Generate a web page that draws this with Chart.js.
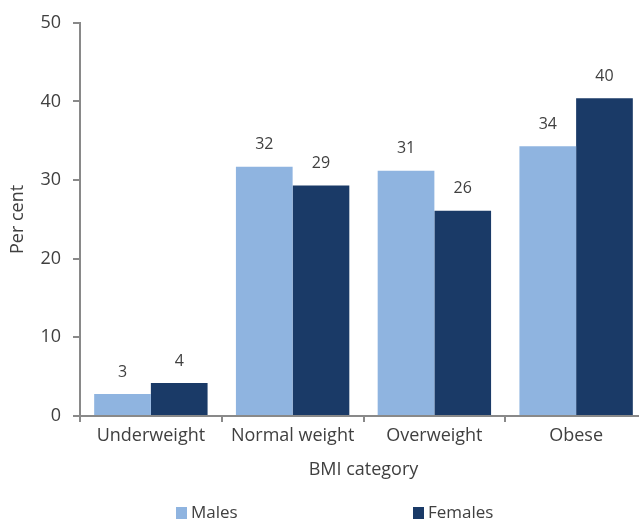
<!DOCTYPE html>
<html>
<head>
<meta charset="utf-8">
<script src="https://cdn.jsdelivr.net/npm/chart.js@4/dist/chart.umd.min.js"></script>
<style>
    html, body { margin: 0; padding: 0; background: #fff; overflow: hidden; }
    #wrap { position: absolute; left: 0; top: 0; width: 650px; height: 520px; }
</style>
</head>
<body>
<div id="wrap"><canvas id="chart"></canvas></div>
<script>
(function () {
    "use strict";

    const categories = ["Underweight", "Normal weight", "Overweight", "Obese"];
    const males = [2.8, 31.7, 31.2, 34.3];
    const females = [4.2, 29.3, 26.1, 40.4];
    const yTicks = [0, 10, 20, 30, 40, 50];

    const textColor = "#404040";
    const axisColor = "#898989";
    const lightBlue = "#8FB4E0";
    const darkBlue = "#1A3A67";
    const font = "'Open Sans', 'Noto Sans', sans-serif";

    // value labels above each bar, rounded like the source
    const valueLabels = {
        id: "valueLabels",
        afterDatasetsDraw(chart) {
            const ctx = chart.ctx;
            ctx.save();
            ctx.font = `16px ${font}`;
            ctx.fillStyle = textColor;
            ctx.textAlign = "center";
            ctx.textBaseline = "middle";
            chart.data.datasets.forEach((ds, i) => {
                chart.getDatasetMeta(i).data.forEach((bar, j) => {
                    ctx.fillText(Math.round(ds.data[j]), bar.x, bar.y - 22);
                });
            });
            ctx.restore();
        },
    };

    // spread-out legend at the bottom
    const bottomLegend = {
        id: "bottomLegend",
        afterDraw(chart) {
            const ctx = chart.ctx;
            const items = [
                { label: "Males", color: lightBlue, x: 176 },
                { label: "Females", color: darkBlue, x: 413 },
            ];
            ctx.save();
            ctx.font = `17px ${font}`;
            ctx.textBaseline = "middle";
            ctx.textAlign = "left";
            items.forEach((it) => {
                ctx.fillStyle = it.color;
                ctx.fillRect(it.x, 507, 11, 12);
                ctx.fillStyle = textColor;
                ctx.fillText(it.label, it.x + 15, 513);
            });
            ctx.restore();
        },
    };

    new Chart(document.getElementById("chart"), {
        type: "bar",
        data: {
            labels: categories,
            datasets: [
                { label: "Males", data: males, backgroundColor: lightBlue },
                { label: "Females", data: females, backgroundColor: darkBlue },
            ],
        },
        options: {
            responsive: true,
            maintainAspectRatio: false,
            animation: false,
            datasets: { bar: { categoryPercentage: 0.8, barPercentage: 1.0 } },
            layout: { padding: { top: 22, right: 3, bottom: 35, left: 0 } },
            plugins: { legend: { display: false }, tooltip: { enabled: false } },
            scales: {
                x: {
                    afterFit: (s) => { s.height = 69; },
                    grid: { display: true, drawOnChartArea: false, drawTicks: true, tickLength: 6, color: axisColor, lineWidth: 2, offset: true },
                    border: { display: true, color: axisColor, width: 2 },
                    ticks: { color: textColor, font: { family: font, size: 18 }, padding: 3 },
                    title: { display: true, text: "BMI category", color: textColor, font: { family: font, size: 18 }, padding: { top: 4, bottom: 4 } },
                },
                y: {
                    min: 0,
                    max: 50,
                    afterFit: (s) => { s.width = 80; },
                    afterBuildTicks: (s) => { s.ticks = yTicks.map((v) => ({ value: v })); },
                    grid: { display: true, drawOnChartArea: false, drawTicks: true, tickLength: 7, color: axisColor, lineWidth: 2 },
                    border: { display: true, color: axisColor, width: 2 },
                    ticks: { color: textColor, font: { family: font, size: 18 }, padding: 12 },
                    title: { display: true, text: "Per cent", color: textColor, font: { family: font, size: 18 }, padding: { top: 7, bottom: 0 } },
                },
            },
        },
        plugins: [valueLabels, bottomLegend],
    });
})();
</script>
</body>
</html>
